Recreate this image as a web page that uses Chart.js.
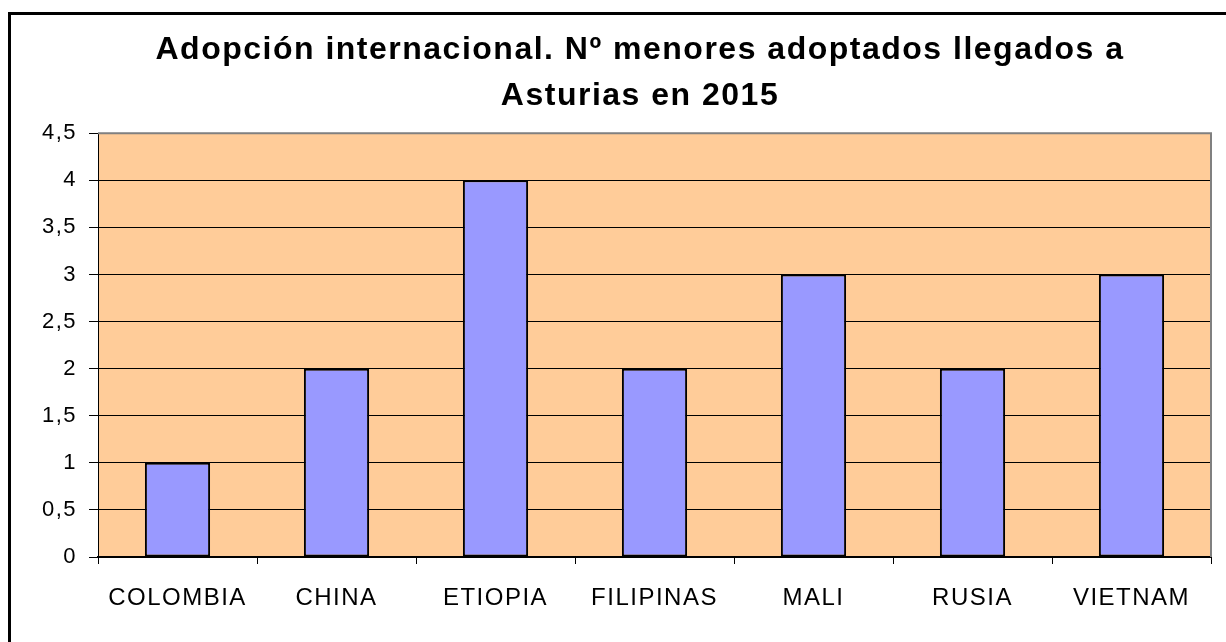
<!DOCTYPE html>
<html>
<head>
<meta charset="utf-8">
<script src="https://cdn.jsdelivr.net/npm/chart.js@4.4.1/dist/chart.umd.min.js"></script>
<style>
  html, body { margin: 0; padding: 0; background: #fff; }
  #wrap { width: 1226px; height: 642px; position: relative; }
</style>
</head>
<body>
<div id="wrap"><canvas id="chart" width="1226" height="642"></canvas></div>
<script>
const categories = ['COLOMBIA', 'CHINA', 'ETIOPIA', 'FILIPINAS', 'MALI', 'RUSIA', 'VIETNAM'];
const adoptados  = [1, 2, 4, 2, 3, 2, 3];
const titleLines = ['Adopción internacional. Nº menores adoptados llegados a', 'Asturias en 2015'];
const yMax  = 4.5;
const yStep = 0.5;

const FONT = '"Liberation Sans", Arial, sans-serif';

// plot background, grey top/right frame and the outer black border
const frame = {
  id: 'frame',
  afterLayout(chart) {
    // the original centres its title a little left of the plot centre
    if (chart.titleBlock) chart.titleBlock.left = 69;
  },
  beforeDraw(chart) {
    const { ctx: c, chartArea: a } = chart;
    c.letterSpacing = '1.5px';   // the original's text is set a bit loose
    c.save();
    c.fillStyle = '#FFCC99';
    c.fillRect(a.left, a.top, a.right - a.left, a.bottom - a.top);
    c.restore();
  },
  afterDraw(chart) {
    const { ctx: c, chartArea: a } = chart;
    c.save();
    c.strokeStyle = '#808080';
    c.lineWidth = 2;
    c.beginPath();
    c.moveTo(a.left, a.top);
    c.lineTo(a.right, a.top);
    c.lineTo(a.right, a.bottom);
    c.stroke();
    c.strokeStyle = '#000';
    c.lineWidth = 3;
    c.strokeRect(9.5, 13.5, 1400, 800);
    c.restore();
  }
};

new Chart(document.getElementById('chart').getContext('2d'), {
  type: 'bar',
  data: {
    labels: categories,
    datasets: [{
      data: adoptados,
      backgroundColor: '#9999FF',
      borderColor: '#000',
      borderWidth: 2,
      borderSkipped: false,
      categoryPercentage: 1,
      barPercentage: 0.41
    }]
  },
  options: {
    responsive: false,
    animation: false,
    layout: { padding: { left: 0, right: 15, top: 0, bottom: 0 } },
    plugins: {
      legend: { display: false },
      tooltip: { enabled: false },
      title: {
        display: true,
        text: titleLines,
        color: '#000',
        font: { family: FONT, size: 32, weight: 'bold', lineHeight: 1.41 },
        padding: { top: 28, bottom: 15 }
      }
    },
    scales: {
      x: {
        grid: { display: true, drawOnChartArea: false, offset: true, color: '#000', tickLength: 7, tickWidth: 1 },
        border: { color: '#000', width: 2 },
        ticks: { color: '#000', font: { family: FONT, size: 24 }, padding: 20, maxRotation: 0 },
        afterFit(scale) { scale.height = 85; }
      },
      y: {
        min: 0,
        max: yMax,
        grid: { color: '#000', lineWidth: 1, tickLength: 9 },
        border: { color: '#000', width: 1 },
        ticks: {
          stepSize: yStep,
          color: '#000',
          font: { family: FONT, size: 22 },
          padding: 12,
          callback: v => String(v).replace('.', ',')
        },
        afterFit(scale) { scale.width = 98; }
      }
    }
  },
  plugins: [frame]
});
</script>
</body>
</html>
